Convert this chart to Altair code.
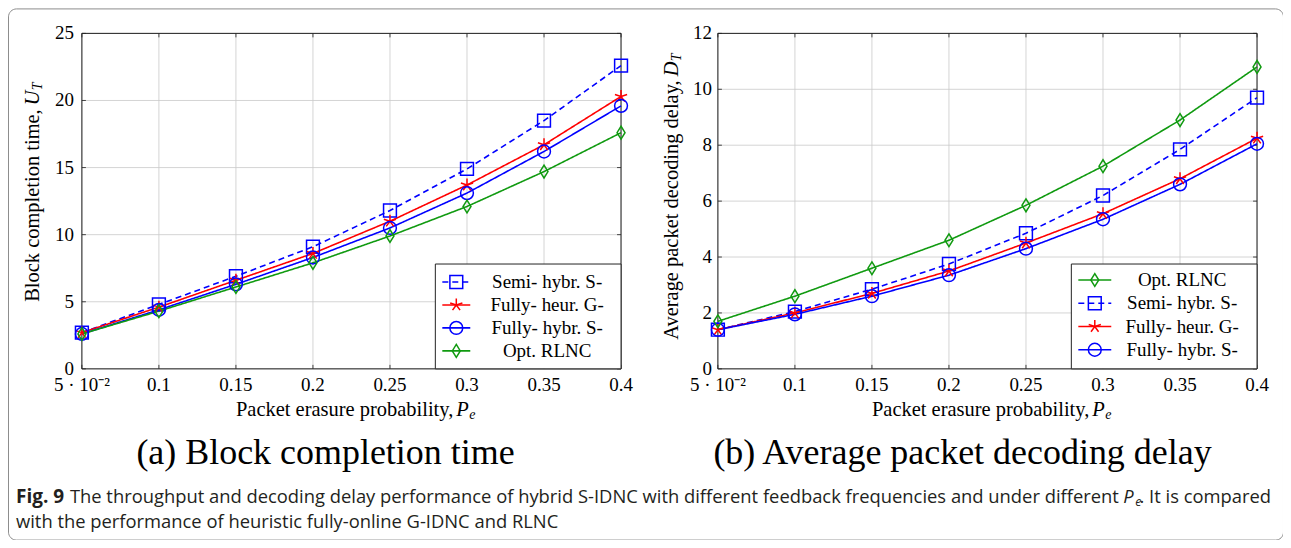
import altair as alt
import pandas as pd

# ---------------- data ----------------
pe = [0.05, 0.1, 0.15, 0.2, 0.25, 0.3, 0.35, 0.4]
x_tick_labels = ["5 · 10⁻²", "0.1", "0.15", "0.2", "0.25", "0.3", "0.35", "0.4"]

series_names = ["Semi- hybr. S-", "Fully- heur. G-", "Fully- hybr. S-", "Opt. RLNC"]

# (a) Block completion time U_T
ut_semi = [2.7, 4.8, 6.9, 9.1, 11.8, 14.9, 18.5, 22.6]
ut_heur = [2.7, 4.6, 6.6, 8.6, 11.0, 13.7, 16.7, 20.3]
ut_hybr = [2.6, 4.4, 6.3, 8.3, 10.5, 13.1, 16.2, 19.6]
ut_opt = [2.6, 4.3, 6.1, 7.9, 9.9, 12.1, 14.7, 17.6]
ya_ticks = [0, 5, 10, 15, 20, 25]

# (b) Average packet decoding delay D_T
dt_semi = [1.4, 2.05, 2.85, 3.75, 4.85, 6.2, 7.85, 9.7]
dt_heur = [1.4, 2.0, 2.7, 3.5, 4.5, 5.55, 6.8, 8.25]
dt_hybr = [1.4, 1.95, 2.6, 3.35, 4.3, 5.35, 6.6, 8.05]
dt_opt = [1.7, 2.6, 3.6, 4.6, 5.85, 7.25, 8.9, 10.8]
yb_ticks = [0, 2, 4, 6, 8, 10, 12]

legend_a_order = ["Semi- hybr. S-", "Fully- heur. G-", "Fully- hybr. S-", "Opt. RLNC"]
legend_b_order = ["Opt. RLNC", "Semi- hybr. S-", "Fully- heur. G-", "Fully- hybr. S-"]

# ---------------- styles ----------------
SERIF = "Liberation Serif"
SANS = "Open Sans"
TICK_SIZE = 19
TITLE_SIZE = 20.5
colors = ["#0000ff", "#ff0000", "#0000ff", "#109a10"]
dashes = [[6, 4], [1, 0], [1, 0], [1, 0]]
shapes = [
    "M-1,-1H1V1H-1Z",
    "M0,0L0,-1M0,0L0.951,-0.309M0,0L0.588,0.809M0,0L-0.588,0.809M0,0L-0.951,-0.309",
    "circle",
    "M0,-1L0.62,0L0,1L-0.62,0Z",
]
color_scale = alt.Scale(domain=series_names, range=colors)
dash_scale = alt.Scale(domain=series_names, range=dashes)
shape_scale = alt.Scale(domain=series_names, range=shapes)

Y_RANGE = [361, 25]
TICK_LEN = 4
dummy = pd.DataFrame({"d": [0]})


def long_df(vals):
    rows = []
    for name, ys in zip(series_names, vals):
        for x, y in zip(pe, ys):
            rows.append({"series": name, "x": x, "y": y})
    return pd.DataFrame(rows)


def panel(vals, ydom, yticks, xrange, ylab_x):
    xs = alt.Scale(domain=[0.05, 0.4], range=xrange, nice=False, zero=False)
    ys = alt.Scale(domain=ydom, range=Y_RANGE, nice=False, zero=False)
    df = long_df(vals)
    xt = pd.DataFrame({"v": pe, "lab": x_tick_labels})
    yt = pd.DataFrame({"v": yticks, "lab": [str(v) for v in yticks]})
    X_T = alt.X("v:Q", scale=xs, axis=None)
    Y_T = alt.Y("v:Q", scale=ys, axis=None)

    vgrid = alt.Chart(xt).mark_rule(color="#c9c9c9", strokeWidth=0.8).encode(
        x=X_T,
        y=alt.YDatum(ydom[0], scale=ys, axis=None),
        y2=alt.Y2Datum(ydom[1]),
    )
    hgrid = alt.Chart(yt).mark_rule(color="#c9c9c9", strokeWidth=0.8).encode(
        y=Y_T,
        x=alt.XDatum(0.05, scale=xs, axis=None),
        x2=alt.X2Datum(0.4),
    )
    tick_style = dict(color="#333333", strokeWidth=0.9)
    ticks = [
        alt.Chart(xt).mark_rule(**tick_style).encode(x=X_T, y=alt.value(Y_RANGE[0]), y2=alt.value(Y_RANGE[0] - TICK_LEN)),
        alt.Chart(xt).mark_rule(**tick_style).encode(x=X_T, y=alt.value(Y_RANGE[1]), y2=alt.value(Y_RANGE[1] + TICK_LEN)),
        alt.Chart(yt).mark_rule(**tick_style).encode(y=Y_T, x=alt.value(xrange[0]), x2=alt.value(xrange[0] + TICK_LEN)),
        alt.Chart(yt).mark_rule(**tick_style).encode(y=Y_T, x=alt.value(xrange[1]), x2=alt.value(xrange[1] - TICK_LEN)),
    ]
    frame = alt.Chart(dummy).mark_rect(filled=False, color="#222222", strokeWidth=1).encode(
        x=alt.XDatum(0.05, scale=xs, axis=None),
        x2=alt.X2Datum(0.4),
        y=alt.YDatum(ydom[0], scale=ys, axis=None),
        y2=alt.Y2Datum(ydom[1]),
    )
    enc = dict(
        x=alt.X("x:Q", scale=xs, axis=None),
        y=alt.Y("y:Q", scale=ys, axis=None),
        color=alt.Color("series:N", scale=color_scale, legend=None),
    )
    lines = alt.Chart(df).mark_line(strokeWidth=1.6).encode(
        strokeDash=alt.StrokeDash("series:N", scale=dash_scale, legend=None),
        detail="series:N",
        **enc,
    )
    pts = alt.Chart(df).mark_point(filled=False, size=165, strokeWidth=1.5, opacity=1).encode(
        shape=alt.Shape("series:N", scale=shape_scale, legend=None),
        **enc,
    )
    xlabels = alt.Chart(xt).mark_text(font=SERIF, fontSize=TICK_SIZE, baseline="middle", align="center", color="black").encode(
        x=X_T,
        y=alt.value(377),
        text="lab:N",
    )
    ylabels = alt.Chart(yt).mark_text(font=SERIF, fontSize=TICK_SIZE, baseline="middle", align="right", color="black").encode(
        y=Y_T,
        x=alt.value(ylab_x),
        text="lab:N",
    )
    return alt.layer(vgrid, hgrid, *ticks, frame, lines, pts, xlabels, ylabels)


def legend(order, box, row_y0, row_dy, line_x, text_x):
    ld = pd.DataFrame({"series": order})
    ld["ly"] = [row_y0 + i * row_dy for i in range(len(order))]
    bx = alt.Chart(dummy).mark_rect(fill="white", stroke="#222222", strokeWidth=1).encode(
        x=alt.value(box[0]), x2=alt.value(box[1]), y=alt.value(box[2]), y2=alt.value(box[3])
    )
    col = alt.Color("series:N", scale=color_scale, legend=None)
    ln = alt.Chart(ld).mark_rule(strokeWidth=1.6).encode(
        x=alt.value(line_x[0]), x2=alt.value(line_x[1]),
        y=alt.Y("ly:Q", scale=None),
        color=col,
        strokeDash=alt.StrokeDash("series:N", scale=dash_scale, legend=None),
    )
    mk = alt.Chart(ld).mark_point(filled=False, size=165, strokeWidth=1.5, opacity=1).encode(
        x=alt.value((line_x[0] + line_x[1]) / 2),
        y=alt.Y("ly:Q", scale=None),
        color=col,
        shape=alt.Shape("series:N", scale=shape_scale, legend=None),
    )
    tx = alt.Chart(ld).mark_text(font=SERIF, fontSize=TICK_SIZE, align="center", baseline="middle", color="black").encode(
        x=alt.value(text_x),
        y=alt.Y("ly:Q", scale=None),
        text="series:N",
    )
    return [bx, ln, mk, tx]


def label(text, x, y, size=TITLE_SIZE, font=SERIF, align="left", angle=0, style="normal", weight="normal", color="black", baseline="middle"):
    return alt.Chart(dummy).mark_text(
        text=text, font=font, fontSize=size, align=align, angle=angle,
        fontStyle=style, fontWeight=weight, color=color, baseline=baseline,
    ).encode(x=alt.value(x), y=alt.value(y))


pa = panel([ut_semi, ut_heur, ut_hybr, ut_opt], [0, 25], ya_ticks, [74, 614], 66)
pb = panel([dt_semi, dt_heur, dt_hybr, dt_opt], [0, 12], yb_ticks, [711, 1251], 705)

leg_a = legend(legend_a_order, (428, 614, 256, 361), 274, 23, (435, 463), 540)
leg_b = legend(legend_b_order, (1065, 1251, 256, 361), 272, 23.3, (1072, 1105), 1176)

CAP = "#231f20"
CAP_SIZE = 18.4
texts = [
    # x-axis titles
    label("Packet erasure probability,", 446, 402, align="right"),
    label("P", 449, 402, style="italic"),
    label("e", 462, 407, size=14, style="italic"),
    label("Packet erasure probability,", 1083, 402, align="right"),
    label("P", 1086, 402, style="italic"),
    label("e", 1099, 407, size=14, style="italic"),
    # y-axis titles
    label("Block completion time,", 25, 101, angle=270, align="right"),
    label("U", 25, 97, angle=270, style="italic"),
    label("T", 30, 82, angle=270, style="italic", size=14),
    label("Average packet decoding delay,", 665, 72, angle=270, align="right"),
    label("D", 665, 68, angle=270, style="italic"),
    label("T", 670, 53, angle=270, style="italic", size=14),
    # sub-captions
    label("(a) Block completion time", 318, 445, size=36, align="center"),
    label("(b) Average packet decoding delay", 956, 445, size=36, align="center"),
    # figure caption
    label("Fig. 9", 8, 489, size=19, font=SANS, weight="bold", color=CAP),
    label("The throughput and decoding delay performance of hybrid S-IDNC with different feedback frequencies and under different",
          62, 489, size=CAP_SIZE, font=SANS, color=CAP),
    label("P", 1117, 489, size=CAP_SIZE, font=SANS, style="italic", color=CAP),
    label("e", 1129, 494, size=12.5, font=SANS, style="italic", color=CAP),
    label(". It is compared", 1265, 489, size=CAP_SIZE, font=SANS, align="right", color=CAP),
    label("with the performance of heuristic fully-online G-IDNC and RLNC", 8, 514, size=CAP_SIZE, font=SANS, color=CAP),
]

chart = (
    alt.layer(pa, pb, *leg_a, *leg_b, *texts)
    .resolve_scale(x="independent", y="independent")
    .properties(width=1277, height=532, autosize=alt.AutoSizeParams(type="none"), padding=0)
    .configure_view(stroke="#8c8c8c", strokeWidth=1, cornerRadius=8)
)

chart.save("out.html", embed_options={"renderer": "svg", "actions": False})
